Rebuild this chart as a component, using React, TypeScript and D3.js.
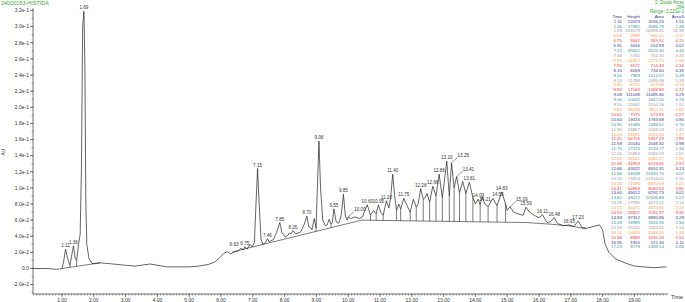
import React from "react";
import * as d3 from "d3";

// trace of the diode array signal, [time (min), AU]
const trace: [number, number][] = [
  [0.09, 0.0], [0.5, 0.0], [0.85, -0.001], [1.0, 0.0], [1.05, 0.008], [1.11, 0.024], [1.18, 0.012],
  [1.25, 0.004], [1.3, 0.015], [1.36, 0.028], [1.42, 0.012], [1.46, 0.01], [1.52, 0.03], [1.57, 0.042],
  [1.61, 0.12], [1.65, 0.3], [1.69, 0.319], [1.72, 0.25], [1.75, 0.08], [1.78, 0.03], [1.85, 0.012],
  [1.95, 0.006], [2.2, 0.007], [2.5, 0.006], [3.0, 0.004], [3.3, 0.003], [3.77, 0.0056], [4.3, 0.002],
  [5.0, 0.002], [5.3, 0.003], [5.6, 0.005], [5.8, 0.008], [5.95, 0.013], [6.1, 0.019], [6.2, 0.021],
  [6.3, 0.018], [6.4, 0.02], [6.55, 0.022], [6.63, 0.025], [6.7, 0.023], [6.75, 0.027], [6.82, 0.024],
  [6.91, 0.03], [6.98, 0.027], [7.05, 0.032], [7.1, 0.08], [7.15, 0.124], [7.2, 0.08], [7.26, 0.036],
  [7.32, 0.03], [7.4, 0.032], [7.46, 0.037], [7.52, 0.033], [7.65, 0.036], [7.75, 0.045], [7.85, 0.057],
  [7.92, 0.044], [7.96, 0.043], [8.02, 0.039], [8.1, 0.041], [8.15, 0.044], [8.2, 0.043], [8.26, 0.047],
  [8.35, 0.043], [8.5, 0.045], [8.62, 0.055], [8.7, 0.065], [8.76, 0.052], [8.81, 0.051], [8.86, 0.048],
  [8.93, 0.062], [8.99, 0.05], [9.03, 0.1], [9.08, 0.158], [9.13, 0.1], [9.2, 0.06], [9.28, 0.053],
  [9.34, 0.054], [9.4, 0.061], [9.46, 0.055], [9.5, 0.057], [9.55, 0.074], [9.62, 0.058], [9.7, 0.056],
  [9.78, 0.066], [9.85, 0.092], [9.91, 0.065], [9.97, 0.06], [10.0, 0.064], [10.08, 0.062], [10.2, 0.064],
  [10.35, 0.062], [10.45, 0.064], [10.55, 0.075], [10.6, 0.079], [10.7, 0.066], [10.8, 0.072],
  [10.88, 0.068], [10.95, 0.079], [11.02, 0.07], [11.1, 0.066], [11.2, 0.084], [11.28, 0.075],
  [11.34, 0.09], [11.4, 0.117], [11.46, 0.09], [11.52, 0.072], [11.59, 0.08], [11.65, 0.074],
  [11.75, 0.087], [11.85, 0.078], [11.95, 0.07], [12.05, 0.086], [12.14, 0.076], [12.2, 0.08],
  [12.28, 0.099], [12.36, 0.086], [12.42, 0.088], [12.48, 0.093], [12.56, 0.082], [12.66, 0.102],
  [12.76, 0.09], [12.86, 0.117], [12.96, 0.088], [13.1, 0.133], [13.18, 0.09], [13.25, 0.131],
  [13.33, 0.1], [13.41, 0.114], [13.5, 0.094], [13.6, 0.108], [13.7, 0.093], [13.81, 0.107],
  [13.92, 0.088], [14.0, 0.08], [14.09, 0.086], [14.15, 0.079], [14.21, 0.089], [14.3, 0.08],
  [14.4, 0.077], [14.55, 0.087], [14.68, 0.078], [14.83, 0.095], [14.95, 0.08], [15.0, 0.072],
  [15.09, 0.0765], [15.2, 0.07], [15.4, 0.067], [15.5, 0.066], [15.59, 0.076], [15.7, 0.07],
  [15.85, 0.066], [16.0, 0.063], [16.11, 0.0667], [16.25, 0.057], [16.35, 0.058], [16.48, 0.063],
  [16.58, 0.056], [16.75, 0.053], [16.95, 0.054], [17.1, 0.052], [17.23, 0.059], [17.35, 0.051],
  [17.5, 0.05], [17.7, 0.052], [17.9, 0.054], [18.0, 0.048], [18.08, 0.03], [18.2, 0.02],
  [18.4, 0.012], [18.7, 0.007], [19.0, 0.003], [19.3, 0.002], [19.6, 0.001], [20.0, 0.002],
];

// integration baselines
const baselines: [number, number][][] = [
  [[1.0, 0.0], [2.2, 0.007]],
  [[6.35, 0.0205], [10.43, 0.06], [15.6, 0.057], [16.35, 0.055], [17.0, 0.0527], [17.5, 0.049]],
];

// valleys with drop lines
const dropTimes = [1.25, 1.46, 8.99, 9.46, 10.7, 10.88, 11.1, 11.52, 11.65, 11.95, 12.14, 12.36, 12.56,
  12.76, 12.96, 13.18, 13.33, 13.5, 13.7, 13.92, 14.15, 14.4, 14.68, 14.95];

// peak table
const peakTimes = ["1.11", "1.36", "1.69", "6.63", "6.75", "6.91", "7.15", "7.46", "7.85", "7.96", "8.15",
  "8.26", "8.70", "8.81", "8.93", "9.08", "9.40", "9.55", "9.85", "10.00", "10.60", "10.80", "10.95", "11.20",
  "11.40", "11.59", "11.75", "12.05", "12.28", "12.48", "12.66", "12.86", "13.10", "13.25", "13.41", "13.60",
  "13.81", "14.09", "14.21", "14.55", "14.83", "15.09", "15.59", "16.11", "16.48", "16.95", "17.23"];
const peakHeights = ["24023", "27982", "319079", "2899", "3602", "5016", "95651", "5760", "24457", "6572",
  "6059", "7983", "21784", "6712", "17163", "111038", "10625", "22652", "38028", "7575", "19115", "11686",
  "18867", "24161", "56755", "20140", "27213", "25955", "39161", "33953", "43022", "58058", "73813", "71596",
  "54863", "49012", "48072", "27990", "30471", "28827", "37312", "18989", "19140", "10655", "8868", "1915", "8779"];
const peakAreas = ["3165.25", "3086.79", "24998.41", "362.15", "305.51", "152.59", "9205.30", "742.34",
  "2773.75", "714.49", "734.60", "1014.57", "2485.99", "403.48", "1468.88", "11085.80", "1667.00", "2104.58",
  "3811.11", "573.95", "1783.58", "1486.51", "2068.33", "2656.25", "5967.28", "2046.32", "5134.77", "5465.59",
  "4065.27", "6219.40", "6552.31", "10594.70", "12354.20", "8870.69", "8080.53", "6292.73", "10596.89",
  "4472.31", "4555.80", "7032.37", "6890.86", "5355.95", "2383.92", "2468.55", "1050.43", "221.30", "1389.14"];
const peakPct = ["1.51", "1.48", "11.99", "0.17", "0.15", "0.07", "4.40", "0.35", "1.33", "0.34", "0.35",
  "0.49", "1.19", "0.19", "0.72", "5.29", "0.74", "1.01", "1.82", "0.27", "0.85", "0.70", "1.47", "1.27",
  "2.85", "0.98", "2.46", "2.61", "1.95", "2.97", "3.13", "5.07", "5.90", "4.24", "3.86", "3.01", "5.07",
  "2.14", "2.18", "3.36", "3.29", "2.56", "1.14", "1.18", "0.50", "0.11", "0.66"];

// peaks that carry a label on the trace
const labelledPeaks = ["1.11", "1.36", "1.69", "6.63", "6.75", "7.15", "7.46", "7.85", "8.26", "8.70", "9.08",
  "9.55", "9.85", "10.00", "10.60", "10.95", "11.20", "11.40", "11.75", "12.28", "12.66", "12.86", "13.10",
  "13.25", "13.41", "13.81", "14.09", "14.21", "14.55", "14.83", "15.09", "15.59", "16.11", "16.48", "16.95",
  "17.23"];
// labels pushed aside with a leader line
const shiftedLabels = ["10.00", "13.25", "13.41", "15.09"];
// small nudges for crowded labels (px)
const labelNudge: Record<string, [number, number]> = {
  "6.63": [-7, 0],
  "14.21": [3, 6],
  "14.55": [5, 0],
};

const rowColors = ["#333399", "#2f9a9a", "#9a9a9a", "#ff9933", "#ff3333"];
const font = "Liberation Sans, Arial, sans-serif";

function interp(pts: [number, number][], t: number) {
  const i = d3.bisector((d: [number, number]) => d[0]).left(pts, t);
  if (i <= 0) return pts[0][1];
  if (i >= pts.length) return pts[pts.length - 1][1];
  const [t0, v0] = pts[i - 1];
  const [t1, v1] = pts[i];
  return v0 + ((v1 - v0) * (t - t0)) / (t1 - t0);
}

export default function App() {
  const x = d3.scaleLinear().domain([0, 19]).range([30.2, 634.4]);
  const y = d3.scaleLinear().domain([0, 0.32]).range([268.5, 10.5]);
  const axisX = 33;
  const axisY = 294;

  const line = d3
    .line<[number, number]>()
    .x((d) => x(d[0]))
    .y((d) => y(d[1]));

  const yMajor = d3.range(-1, 17).map((i) => i * 0.02);
  const yMinor = d3.range(-3, 33).map((i) => i * 0.01);
  const xMajor = d3.range(1, 20);
  const xMinor = d3.range(1, 200).map((i) => i * 0.1);
  const fmtY = (v: number) => (Math.abs(v) < 1e-9 ? "0.0" : v.toExponential(1));

  const allBase = baselines.flat();
  const rowY = (i: number) => 21 + i * 4.91;

  return (
    <svg width={685} height={302} style={{ position: "absolute", left: 0, top: 0, background: "#fff" }}>
      {/* header */}
      <text x={1} y={5} fontSize={5.5} fill="#33aa33" fontFamily={font}>24000153-HISTIDA</text>
      <g fontFamily={font} fontSize={4.6} fill="#33aa33" textAnchor="end">
        <text x={684} y={4}>2: Diode Array</text>
        <text x={684} y={8.5}>284</text>
        <text x={684} y={13}>Range: 3.221e-1</text>
      </g>

      {/* y axis */}
      <line x1={axisX} x2={axisX} y1={y(0.323)} y2={axisY} stroke="#333" strokeWidth={0.7} />
      {yMinor.map((v) => (
        <line key={"ym" + v} x1={axisX - 1.5} x2={axisX} y1={y(v)} y2={y(v)} stroke="#333" strokeWidth={0.5} />
      ))}
      {yMajor.map((v) => (
        <g key={"y" + v}>
          <line x1={axisX - 3} x2={axisX} y1={y(v)} y2={y(v)} stroke="#333" strokeWidth={0.6} />
          <text x={axisX - 4} y={y(v)} dy="0.35em" fontSize={5} textAnchor="end" fill="#333" fontFamily={font}>
            {fmtY(v)}
          </text>
        </g>
      ))}
      <text transform={`translate(5,152) rotate(-90)`} fontSize={5} textAnchor="middle" fill="#333" fontFamily={font}>AU</text>

      {/* x axis */}
      <line x1={axisX} x2={668} y1={axisY} y2={axisY} stroke="#333" strokeWidth={0.7} />
      {xMinor.filter((v) => x(v) <= 668).map((v) => (
        <line key={"xm" + v} x1={x(v)} x2={x(v)} y1={axisY} y2={axisY + 1.5} stroke="#333" strokeWidth={0.5} />
      ))}
      {xMajor.map((v) => (
        <g key={"x" + v}>
          <line x1={x(v)} x2={x(v)} y1={axisY} y2={axisY + 3} stroke="#333" strokeWidth={0.6} />
          <text x={x(v)} y={301.5} fontSize={5} textAnchor="middle" fill="#333" fontFamily={font}>
            {v.toFixed(2)}
          </text>
        </g>
      ))}
      <text x={671} y={299} fontSize={5.5} fill="#333" fontFamily={font}>Time</text>

      {/* integration baselines and drop lines */}
      {baselines.map((b, i) => (
        <path key={"b" + i} d={line(b) || ""} fill="none" stroke="#222" strokeWidth={0.6} />
      ))}
      {dropTimes.map((t) => (
        <line key={"d" + t} x1={x(t)} x2={x(t)} y1={y(interp(trace, t))} y2={y(interp(allBase, t))}
          stroke="#222" strokeWidth={0.6} />
      ))}

      {/* trace */}
      <path d={line(trace) || ""} fill="none" stroke="#222" strokeWidth={0.7} />

      {/* peak labels */}
      {labelledPeaks.map((p) => {
        const t = +p;
        const px = x(t);
        const py = y(interp(trace, t));
        const shifted = shiftedLabels.includes(p);
        const [nx, ny] = labelNudge[p] || [0, 0];
        const lx = (shifted ? px + 8 : px) + nx;
        const ly = (shifted ? py - 6 : py - 2) + ny;
        return (
          <g key={"l" + p}>
            {shifted && <line x1={px} y1={py} x2={lx - 2} y2={ly + 0.5} stroke="#333" strokeWidth={0.5} />}
            <text x={lx} y={ly} fontSize={4.6} textAnchor={shifted ? "start" : "middle"}
              fill="#333" fontFamily={font} dx={shifted ? -2 : 0}>
              {p}
            </text>
          </g>
        );
      })}

      {/* peak table */}
      <g fontFamily={font} fontSize={4.4} textAnchor="end">
        <text x={622} y={17.5} fill="#333399">Time</text>
        <text x={640} y={17.5} fill="#333399">Height</text>
        <text x={664} y={17.5} fill="#333399">Area</text>
        <text x={685} y={17.5} fill="#333399">Area%</text>
        {peakTimes.map((p, i) => (
          <g key={"r" + p} fill={rowColors[i % 5]}>
            <text x={622} y={rowY(i) + 1.6}>{p}</text>
            <text x={640} y={rowY(i) + 1.6}>{peakHeights[i]}</text>
            <text x={664} y={rowY(i) + 1.6}>{peakAreas[i]}</text>
            <text x={684} y={rowY(i) + 1.6}>{peakPct[i]}</text>
          </g>
        ))}
      </g>
    </svg>
  );
}
